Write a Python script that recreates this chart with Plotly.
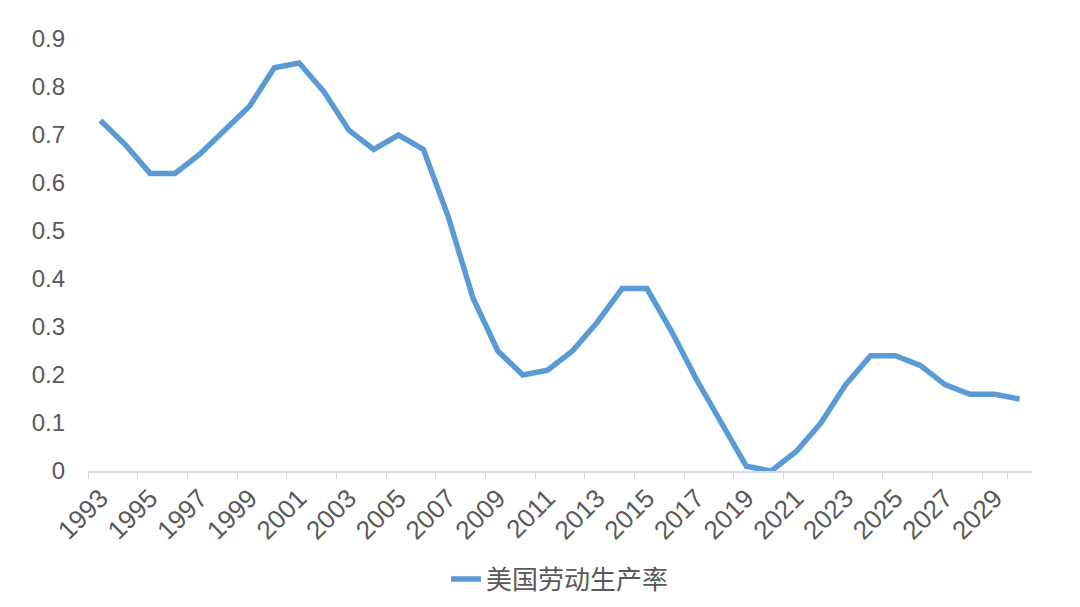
import plotly.graph_objects as go

years = [str(y) for y in range(1993, 2031)]
values = [0.73, 0.68, 0.62, 0.62, 0.66, 0.71, 0.76, 0.84, 0.85, 0.79,
          0.71, 0.67, 0.70, 0.67, 0.53, 0.36, 0.25, 0.20, 0.21, 0.25,
          0.31, 0.38, 0.38, 0.29, 0.19, 0.10, 0.01, 0.00, 0.04, 0.10,
          0.18, 0.24, 0.24, 0.22, 0.18, 0.16, 0.16, 0.15]
series_name = "美国劳动生产率"
y_ticks = [0, 0.1, 0.2, 0.3, 0.4, 0.5, 0.6, 0.7, 0.8, 0.9]
y_labels = ["0", "0.1", "0.2", "0.3", "0.4", "0.5", "0.6", "0.7", "0.8", "0.9"]

fig = go.Figure()
fig.add_trace(go.Scatter(
    x=years, y=values, mode="lines", name=series_name,
    line=dict(color="#5B9BD5", width=5.5),
))

fig.update_layout(
    width=1080, height=607,
    margin=dict(l=80, r=56, t=31, b=144),
    paper_bgcolor="white", plot_bgcolor="white",
    font=dict(family="Liberation Sans, Noto Sans CJK SC, sans-serif", color="#595959"),
    showlegend=True,
    legend=dict(orientation="h", x=0.5, xanchor="center", y=-0.25, yanchor="middle",
                font=dict(size=26, family="Noto Sans CJK SC, sans-serif", color="#595959")),
    xaxis=dict(
        type="category", range=[-0.5, 37.5], automargin=False,
        tickmode="array", tickvals=years[::2], ticktext=years[::2],
        tickangle=-45, tickfont=dict(size=26, color="#595959"),
        showline=True, linecolor="#D9D9D9", linewidth=1.5,
        ticks="outside", ticklen=6, tickcolor="#D9D9D9", tickson="boundaries",
        showgrid=False, zeroline=False,
    ),
    yaxis=dict(
        range=[0, 0.9], automargin=False,
        tickmode="array", tickvals=y_ticks, ticktext=y_labels,
        tickfont=dict(size=24, color="#595959"),
        showgrid=False, zeroline=False, showline=False, ticks="", ticklabelstandoff=22,
    ),
)

fig.write_html("out.html")
